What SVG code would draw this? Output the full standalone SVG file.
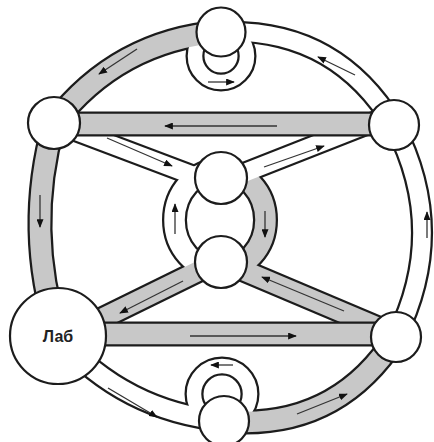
<svg xmlns="http://www.w3.org/2000/svg" width="434" height="442" viewBox="0 0 434 442">
<defs>
<style>
.ol{fill:none;stroke:#1c1c1c;stroke-linecap:butt}
.fw{fill:none;stroke:#ffffff}
.fg{fill:none;stroke:#c8c8c8}
.ar{fill:none;stroke:#333333;stroke-width:1.3;marker-end:url(#ah)}
.nd{fill:#ffffff;stroke:#1c1c1c;stroke-width:2.2}
.lb{font-family:"Liberation Sans",Arial,sans-serif;font-size:16px;font-weight:bold;fill:#222222}
</style>
<marker id="ah" viewBox="0 0 10 8" refX="9" refY="4" markerWidth="9" markerHeight="7" orient="auto" markerUnits="userSpaceOnUse">
<path d="M0,0 L10,4 L0,8 z" fill="#111111"/>
</marker>
</defs>
<rect width="434" height="442" fill="#ffffff"/>
<g id="connectors">
<g id="outlines" class="ol">
<circle cx="221" cy="56" r="26" stroke-width="19"/>
<circle cx="222" cy="394" r="28" stroke-width="19"/>
<path d="M220,170 A45.5,50 0 0 0 220,270" stroke-width="25"/>
<path d="M220,170 A45.5,50 0 0 1 220,270" stroke-width="25"/>
<path d="M54,123 L205,180" stroke-width="22"/>
<path d="M221,182 L394,114" stroke-width="22"/>
<path d="M58,340 L221,260" stroke-width="24"/>
<path d="M221,261 L396,335" stroke-width="24"/>
<path d="M221,32 Q117.4,40.6 54,123" stroke-width="25"/>
<path d="M54,123 Q24,230 58,336" stroke-width="25"/>
<path d="M58,336 Q124.1,411.4 224,421" stroke-width="23"/>
<path d="M224,421 Q335.5,431.1 396,337" stroke-width="25"/>
<path d="M396,337 Q449,230.5 394,125" stroke-width="22"/>
<path d="M394,125 Q335,27.4 221,32" stroke-width="22"/>
</g>
<g id="fills">
<circle class="fw" cx="221" cy="56" r="26" stroke-width="14.5"/>
<circle class="fw" cx="222" cy="394" r="28" stroke-width="14.5"/>
<path class="fw" d="M220,170 A45.5,50 0 0 0 220,270" stroke-width="20.5"/>
<path class="fg" d="M220,170 A45.5,50 0 0 1 220,270" stroke-width="20.5"/>
<path class="fw" d="M54,123 L205,180" stroke-width="17.5"/>
<path class="fw" d="M221,182 L394,114" stroke-width="17.5"/>
<path class="fg" d="M58,340 L221,260" stroke-width="19.5"/>
<path class="fg" d="M221,261 L396,335" stroke-width="19.5"/>
<path class="fg" d="M221,32 Q117.4,40.6 54,123" stroke-width="20.5"/>
<path class="fg" d="M54,123 Q24,230 58,336" stroke-width="20.5"/>
<path class="fw" d="M58,336 Q124.1,411.4 224,421" stroke-width="18.5"/>
<path class="fg" d="M224,421 Q335.5,431.1 396,337" stroke-width="20.5"/>
<path class="fw" d="M396,337 Q449,230.5 394,125" stroke-width="17.5"/>
<path class="fw" d="M394,125 Q335,27.4 221,32" stroke-width="17.5"/>
</g>
<g id="horizontals">
<path class="ol" d="M54,124 L394,124" stroke-width="25"/>
<path class="fg" d="M54,124 L394,124" stroke-width="20.5"/>
<path class="ol" d="M58,334 L396,334" stroke-width="25"/>
<path class="fg" d="M58,334 L396,334" stroke-width="20.5"/>
</g>
<g id="arrows">
<path class="ar" d="M137,49 L99,74"/>
<path class="ar" d="M40,195 L40,227"/>
<path class="ar" d="M108,388 L157,417"/>
<path class="ar" d="M297,414 L347,394"/>
<path class="ar" d="M427,238 L427,212"/>
<path class="ar" d="M355,75 L318,57"/>
<path class="ar" d="M277,126 L165,126"/>
<path class="ar" d="M107,138 L172,166"/>
<path class="ar" d="M264,167 L324,146"/>
<path class="ar" d="M183,281 L120,313"/>
<path class="ar" d="M344,311 L262,277"/>
<path class="ar" d="M190,336 L296,336"/>
<path class="ar" d="M175,234 L175,204"/>
<path class="ar" d="M265,211 L265,237"/>
<path class="ar" d="M208,82 L234,82"/>
<path class="ar" d="M233,365 L211,365"/>
</g>
</g>
<g id="node-T"><circle class="nd" cx="221" cy="32" r="24.5"/></g>
<g id="node-L1"><circle class="nd" cx="54" cy="123" r="26"/></g>
<g id="node-R1"><circle class="nd" cx="394" cy="125" r="25"/></g>
<g id="node-C1"><circle class="nd" cx="221" cy="178" r="26"/></g>
<g id="node-C2"><circle class="nd" cx="221" cy="262" r="26"/></g>
<g id="node-R2"><circle class="nd" cx="396" cy="337" r="25"/></g>
<g id="node-B"><circle class="nd" cx="224" cy="421" r="25"/></g>
<g id="node-Lab"><circle class="nd" cx="58" cy="336" r="48"/><text class="lb" x="58" y="342" text-anchor="middle">Лаб</text></g>
</svg>
